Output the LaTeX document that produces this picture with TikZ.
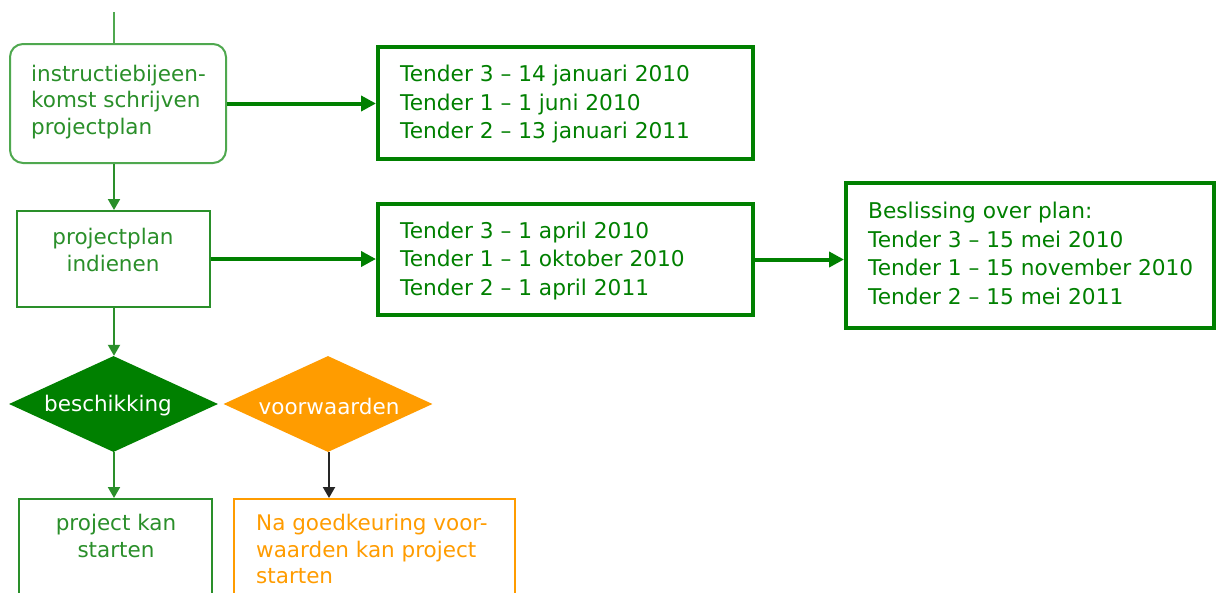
\documentclass[tikz,border=0pt]{standalone}
\usepackage{fontspec}
\setmainfont{DejaVu Sans}
\usetikzlibrary{shapes.geometric,arrows.meta}
\definecolor{dgreen}{HTML}{008000}
\definecolor{lgreen}{HTML}{4FA84F}
\definecolor{mgreen}{HTML}{2A8F2A}
\definecolor{orng}{HTML}{FF9C00}
\tikzset{
  smalltxt/.style={font=\fontsize{21.5}{26.5}\selectfont, inner sep=0pt},
  bigtxt/.style={font=\fontsize{21.7}{28.5}\selectfont, inner sep=0pt, text=dgreen, align=left, anchor=west},
  flowbox/.style={draw=mgreen, line width=2pt, rectangle, inner sep=0pt},
  tenderbox/.style={draw=dgreen, line width=4pt, rectangle, inner sep=0pt, fill=white},
  thinarrow/.style={draw=mgreen, line width=2pt, -{Triangle[length=11pt,width=12pt]}},
  thickarrow/.style={draw=dgreen, line width=4pt, -{Triangle[length=15pt,width=15pt]}},
  decision/.style={diamond, inner sep=0pt, minimum width=209pt, minimum height=96pt, text=white}
}
\begin{document}
\begin{tikzpicture}[x=1pt,y=-1pt]
\useasboundingbox (0,0) rectangle (1216,592);
\clip (0,0) rectangle (1216,592);
\fill[white] (0,0) rectangle (1216,592);

% left column boxes
\node[draw=lgreen, line width=2pt, rounded corners=13pt, minimum width=216pt, minimum height=119pt, inner sep=0pt] (b1) at (118,103.5) {};
\node[flowbox, minimum width=193pt, minimum height=96pt] (b2) at (113,259) {};
\node[decision, fill=dgreen] (d1) at (113.5,404) {};
\node[decision, fill=orng] (d2) at (328,404) {};
\node[flowbox, minimum width=193pt, minimum height=120pt] (b3) at (115,559) {};
\node[draw=orng, line width=2pt, rectangle, inner sep=0pt, minimum width=281pt, minimum height=120pt] (b4) at (374,559) {};

% tender boxes
\node[tenderbox, minimum width=375pt, minimum height=112pt] (t1) at (565.5,103) {};
\node[tenderbox, minimum width=375pt, minimum height=111pt] (t2) at (565.5,259.5) {};
\node[tenderbox, minimum width=368pt, minimum height=145pt] (t3) at (1030,255.5) {};

% texts
\node[smalltxt, text=mgreen, align=left, anchor=west] (x1) at (31,102) {instructiebijeen-\\komst schrijven\\projectplan};
\node[smalltxt, text=mgreen, align=center] (x2) at (113,250) {projectplan\\indienen};
\node[smalltxt, text=white] (x3) at (108,406) {beschikking};
\node[smalltxt, text=white] (x4) at (329,406) {voorwaarden};
\node[smalltxt, text=mgreen, align=center] (x5) at (116,536) {project kan\\starten};
\node[smalltxt, text=orng, align=left, anchor=west] (x6) at (256,549) {Na goedkeuring voor-\\waarden kan project\\starten};

\node[bigtxt] (y1) at (400,104.5) {Tender 3 – 14 januari 2010\\Tender 1 – 1 juni 2010\\Tender 2 – 13 januari 2011};
\node[bigtxt] (y2) at (400,261) {Tender 3 – 1 april 2010\\Tender 1 – 1 oktober 2010\\Tender 2 – 1 april 2011};
\node[bigtxt] (y3) at (868,253.5) {Beslissing over plan:\\Tender 3 – 15 mei 2010\\Tender 1 – 15 november 2010\\Tender 2 – 15 mei 2011};

% connectors
\coordinate (top) at (114,12);
\draw[draw=lgreen, line width=2pt] (top) -- (top |- b1.north);
\draw[thinarrow] (b1.south -| top) -- (b2.north -| top);
\draw[thinarrow] (b2.south -| top) -- (d1.north -| top);
\draw[thinarrow] (d1.south -| top) -- (b3.north -| top);
\draw[draw=black!85, line width=2pt, -{Triangle[length=11pt,width=12pt]}] (d2.south -| x4) -- (b4.north -| x4);

\draw[thickarrow] (b1.east) -- (b1.east -| t1.west);
\draw[thickarrow] (b2.east) -- (b2.east -| t2.west);
\draw[thickarrow] (t2.east) -- (t2.east -| t3.west);
\end{tikzpicture}
\end{document}
